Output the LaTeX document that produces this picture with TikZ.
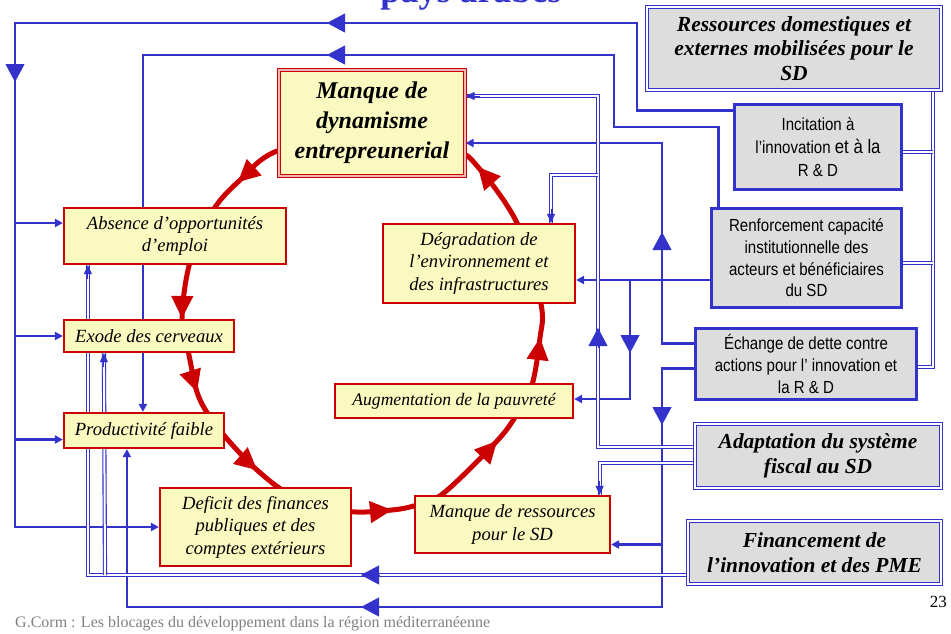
\documentclass[tikz,border=0pt]{standalone}
\usepackage{fontspec}
\setmainfont{Liberation Serif}
\newfontfamily\narrowsans[FakeStretch=0.86]{Liberation Sans}
\usetikzlibrary{arrows.meta,calc}
\pgfdeclarelayer{background}
\pgfsetlayers{background,main}
\definecolor{lblue}{RGB}{51,51,204}
\definecolor{dred}{RGB}{204,0,0}
\definecolor{lyel}{RGB}{250,250,192}
\definecolor{lgray}{RGB}{221,221,221}
\definecolor{fgray}{RGB}{128,128,128}
\begin{document}
\begin{tikzpicture}[x=1pt,y=1pt,
  redbox/.style={draw=dred, line width=2.2pt, fill=lyel, align=center, inner sep=0pt,
    font=\fontsize{18.6}{22.5}\selectfont\itshape},
  dynbox/.style={draw=dred, line width=1.3pt, double=dred!30, double distance=1.6pt, fill=lyel,
    align=center, inner sep=0pt, font=\fontsize{24}{30}\selectfont\bfseries\itshape},
  graybox/.style={draw=lblue, line width=2.6pt, fill=lgray, align=center, inner sep=0pt,
    font=\narrowsans\fontsize{17.5}{21.7}\selectfont},
  dgraybox/.style={draw=lblue, line width=1.1pt, double=white, double distance=1.8pt, fill=lgray,
    align=center, inner sep=0pt, font=\fontsize{21.4}{25}\selectfont\bfseries\itshape},
  bl/.style={draw=lblue, line width=2.6pt},
  endtip/.style={-{Triangle[length=8pt,width=8pt]}},
  dl/.style={draw=lblue, line width=1.1pt, double=white, double distance=2pt},
  bigarr/.style={draw=lblue, fill=lblue, line width=1pt, -{Triangle[length=18pt,width=19pt]}},
  smallarr/.style={draw=lblue, fill=lblue, line width=1pt, -{Triangle[length=9pt,width=8pt]}},
  redarr/.style={draw=dred, fill=dred, line width=1pt, -{Triangle[length=22pt,width=22pt]}}
]
\useasboundingbox (0,0) rectangle (951,-633);

% clipped title
\node[anchor=base, font=\fontsize{36}{36}\selectfont\bfseries, text=lblue, inner sep=0pt] (title) at (471,-2) {pays arabes};

% ---------- nodes ----------
\node[dynbox, minimum width=186pt, minimum height=106pt] (dyn) at (372,-123) {Manque de\\dynamisme\\entrepreunerial};
\node[redbox, minimum width=222pt, minimum height=56pt] (abs) at (175,-236) {Absence d’opportunités\\d’emploi};
\node[redbox, minimum width=170pt, minimum height=32pt] (exo) at (149,-336) {Exode des cerveaux};
\node[redbox, minimum width=160pt, minimum height=35pt] (pro) at (144,-430.5) {Productivité faible};
\node[redbox, minimum width=191pt, minimum height=78pt] (def) at (255.5,-527) {Deficit des finances\\publiques et des\\comptes extérieurs};
\node[redbox, minimum width=195pt, minimum height=57pt] (res) at (512.5,-524.5) {Manque de ressources\\pour le SD};
\node[redbox, minimum width=238pt, minimum height=34pt, font=\fontsize{17.6}{22}\selectfont\itshape] (aug) at (454,-401) {Augmentation de la pauvreté};
\node[redbox, minimum width=192pt, minimum height=79pt] (deg) at (479,-263.5) {Dégradation de\\l’environnement et\\des infrastructures};

\node[dgraybox, minimum width=294pt, minimum height=83pt, font=\fontsize{21.5}{24.5}\selectfont\bfseries\itshape] (ress) at (794,-48.5) {Ressources domestiques et\\externes mobilisées pour le\\SD};
\node[graybox, minimum width=167pt, minimum height=85pt, font=\narrowsans\fontsize{17.5}{23}\selectfont] (inc) at (818,-147) {Incitation à\\l’innovation {\fontsize{19.5}{23}\selectfont et à la}\\R \& D};
\node[graybox, minimum width=190pt, minimum height=99pt] (ren) at (806.5,-258) {Renforcement capacité\\institutionnelle des\\acteurs et bénéficiaires\\du SD};
\node[graybox, minimum width=221pt, minimum height=71pt] (ech) at (806,-364) {Échange de dette contre\\actions pour l’ innovation et\\la R \& D};
\node[dgraybox, minimum width=246pt, minimum height=64pt] (ada) at (818,-456) {Adaptation du système\\fiscal au SD};
\node[dgraybox, minimum width=253pt, minimum height=63pt] (fin) at (814.5,-552.5) {Financement de\\l’innovation et des PME};

\node[anchor=base west, font=\fontsize{16}{16}\selectfont, text=fgray, inner sep=0pt] (foot) at (15,-627) {G.Corm : Les blocages du développement dans la région méditerranéenne};
\node[anchor=base east, font=\fontsize{17}{17}\selectfont, inner sep=0pt] (pg) at (947,-607) {23};

% ---------- connectors (behind boxes) ----------
\begin{pgfonlayer}{background}
% red loop
\coordinate (A) at (372,-140);
\coordinate (B) at (280,-150);
\coordinate (C) at (238,-182);
\coordinate (D) at (212,-212);
\coordinate (E) at (190,-262);
\coordinate (F) at (182,-318);
\coordinate (G) at (189,-355);
\coordinate (H) at (197,-392);
\coordinate (I) at (208,-414);
\coordinate (J) at (228,-440);
\coordinate (K) at (257,-470);
\coordinate (L) at (290,-494);
\coordinate (M) at (345,-511);
\coordinate (N) at (392,-510);
\coordinate (O) at (420,-504);
\coordinate (P) at (445,-492);
\coordinate (Q) at (497,-441);
\coordinate (R) at (517,-414);
\coordinate (S) at (532,-385);
\coordinate (T) at (540,-338);
\coordinate (U) at (541,-304);
\coordinate (V) at (518,-225);
\coordinate (W) at (478,-167);
\coordinate (X) at (452,-150);
\draw[dred, line width=5pt] plot[smooth cycle, tension=0.55] coordinates {(A) (B) (C) (D) (E) (F) (G) (H) (I) (J) (K) (L) (M) (N) (O) (P) (Q) (R) (S) (T) (U) (V) (W) (X)};
\draw[redarr] ($(C)+0.05*(B)-0.05*(D)$) -- (C);
\draw[redarr] ($(F)+0.05*(E)-0.05*(G)$) -- (F);
\draw[redarr] ($(H)+0.05*(G)-0.05*(I)$) -- (H);
\draw[redarr] ($(K)+0.05*(J)-0.05*(L)$) -- (K);
\draw[redarr] ($(N)+0.05*(M)-0.05*(O)$) -- (N);
\draw[redarr] ($(Q)+0.05*(P)-0.05*(R)$) -- (Q);
\draw[redarr] ($(T)+0.05*(S)-0.05*(U)$) -- (T);
\draw[redarr] ($(W)+0.05*(V)-0.05*(X)$) -- (W);

% L1 : Incitation -> left bus
\coordinate (l1a) at (637,-23);
\coordinate (l1b) at (15,-23);
\draw[bl, endtip] ([yshift=-7pt]inc.north west) -| (l1a) -- (l1b) |- (def.west);
\draw[bl, endtip] ([yshift=13pt]abs.west -| l1b) -- ([yshift=13pt]abs.west);
\draw[bl, endtip] (exo.west -| l1b) -- (exo.west);
\draw[bl, endtip] ([yshift=-9pt]pro.west -| l1b) -- ([yshift=-9pt]pro.west);
\draw[bigarr] (15,-63) -- (15,-82);
\draw[bigarr] (345,-23) -- (327,-23);

% L2 : Renforcement top -> Productivite
\coordinate (l2a) at (614,-127);
\coordinate (l2b) at (614,-55);
\draw[bl, endtip] ([xshift=8pt]ren.north west) |- (l2a) -- (l2b) -| ([xshift=80pt]pro.north west);
\draw[bigarr] (345,-55) -- (327,-55);

% L3 : Echange -> Manque de dynamisme
\coordinate (l3a) at (662,-143);
\draw[bl, endtip] ([yshift=-16pt]ech.north west) -| (l3a) -- ([yshift=-20pt]dyn.east);
\draw[bigarr] (662,-252) -- (662,-232);

% L4 : Echange -> Productivite / Manque de ressources
\coordinate (l4a) at (662,-607);
\coordinate (l4j) at (662,-544.5);
\draw[bl, endtip] ([yshift=-41pt]ech.north west) -| (l4a) -| ([xshift=64pt]pro.south west);
\draw[bl, endtip] (l4j) -- ([yshift=-20pt]res.east);
\draw[bigarr] (662,-405) -- (662,-425);
\draw[bigarr] (380,-607) -- (361,-607);

% L5 : Renforcement -> Degradation / Augmentation
\coordinate (l5j) at (630,-280);
\draw[bl, endtip] ([yshift=-22pt]ren.west) -- ([yshift=-16.5pt]deg.east);
\draw[bl, endtip] (l5j) |- ([yshift=2pt]aug.east);
\draw[bigarr] (630,-333) -- (630,-353);

% D1 : Ressources bus
\draw[dl] (933,-91) -- (933,-367) -- ([yshift=-3pt]ech.east);
\draw[dl] ([yshift=-5pt]inc.east) -- (933,-152);
\draw[dl] ([yshift=-5pt]ren.east) -- (933,-263);

% D2 : Adaptation -> Manque de dynamisme / Degradation
\coordinate (d2a) at (598,-96);
\coordinate (d2j) at (598,-175);
\draw[dl] ([yshift=9pt]ada.west) -| (d2a) -- ([yshift=27pt]dyn.east);
\draw[smallarr] ([xshift=14pt,yshift=27pt]dyn.east) -- ([yshift=27pt]dyn.east);
\draw[dl] (d2j) -| ([xshift=72pt]deg.north);
\draw[smallarr] ([xshift=72pt,yshift=14pt]deg.north) -- ([xshift=72pt]deg.north);
\draw[bigarr] (598,-348) -- (598,-328);

% D3 : Adaptation -> Manque de ressources
\draw[dl] ([yshift=-7pt]ada.west) -| ([xshift=-11.5pt]res.north east);
\draw[smallarr] ([xshift=-11.5pt,yshift=14pt]res.north east) -- ([xshift=-11.5pt]res.north east);

% D4 : Financement -> Absence / Exode
\coordinate (d4j) at (105,-575);
\draw[dl] ([yshift=-22.5pt]fin.west) -| ([xshift=25pt]abs.south west);
\draw[smallarr] ([xshift=25pt,yshift=-14pt]abs.south west) -- ([xshift=25pt]abs.south west);
\draw[dl] (d4j) -- ([xshift=41pt]exo.south west);
\draw[smallarr] ([xshift=41pt,yshift=-14pt]exo.south west) -- ([xshift=41pt]exo.south west);
\draw[bigarr] (380,-575) -- (361,-575);
\end{pgfonlayer}
\end{tikzpicture}
\end{document}
